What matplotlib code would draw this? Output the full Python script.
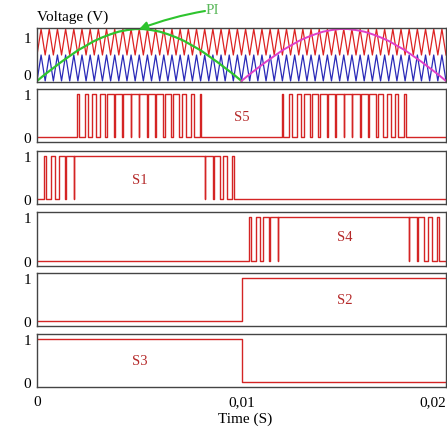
import numpy as np
import matplotlib
matplotlib.use("Agg")
import matplotlib.pyplot as plt

# ---------------- data ----------------
t_end = 0.02                 # s, full time span
carrier_period = 0.0004      # s, period of the two level-shifted triangle carriers
# rectified reference |sin|, sampled once per carrier period (51 samples, 0 .. 0.02 s)
ref_values = [0.00, 0.13, 0.25, 0.37, 0.48, 0.59, 0.68, 0.77, 0.84, 0.90,
              0.95, 0.98, 1.00, 1.00, 0.98, 0.95, 0.90, 0.84, 0.77, 0.68,
              0.59, 0.48, 0.37, 0.25, 0.13, 0.00,
              0.13, 0.25, 0.37, 0.48, 0.59, 0.68, 0.77, 0.84, 0.90,
              0.95, 0.98, 1.00, 1.00, 0.98, 0.95, 0.90, 0.84, 0.77, 0.68,
              0.59, 0.48, 0.37, 0.25, 0.13, 0.00]
# per-carrier-cycle duty of each switching signal (pulse centred on carrier valley)
S5_duty = [0, 0, 0, 0, 0, 0.18, 0.37, 0.54, 0.69, 0.81,
           0.90, 0.96, 0.99, 0.99, 0.96, 0.90, 0.81, 0.69, 0.54, 0.37,
           0.18, 0, 0, 0, 0, 0,
           0, 0, 0, 0, 0.18, 0.37, 0.54, 0.69, 0.81,
           0.90, 0.96, 0.99, 0.99, 0.96, 0.90, 0.81, 0.69, 0.54, 0.37,
           0.18, 0, 0, 0, 0, 0]
S1_duty = [0, 0.25, 0.50, 0.74, 0.96] + [1] * 16 + [0.96, 0.74, 0.50, 0.25] + [0] * 26
S4_duty = [0] * 26 + [0.25, 0.50, 0.74, 0.96] + [1] * 16 + [0.96, 0.74, 0.50, 0.25, 0]
# S2 / S3: single transitions
S2_times = [0.0, 0.01, 0.02]
S2_levels = [0, 1, 1]
S3_times = [0.0, 0.01, 0.02]
S3_levels = [1, 0, 0]
signal_names = ["S5", "S1", "S4", "S2", "S3"]
xtick_vals = [0, 0.01, 0.02]
xtick_labels = ["0", "0,01", "0,02"]

# ---------------- style ----------------
plt.rcParams['font.family'] = ['Liberation Serif', 'DejaVu Serif']
W, H = 447, 431
fig = plt.figure(figsize=(W / 100, H / 100), dpi=100)

def fx(px):
    return px / W

def fy(py):
    return 1 - py / H

def add_panel(top, bottom):
    return fig.add_axes([fx(37), fy(bottom), fx(446) - fx(37), (bottom - top) / H])

RED = "#dd2222"
BLUE = "#2a2ab8"
GREEN = "#2ec42e"
MAGENTA = "#e040c8"
SIG = "#d42424"
LBL = "#b52a2a"
SPINE = "#444444"

panels_px = [(29, 83), (90, 143), (152, 205), (213, 267), (274, 327), (335, 388)]
axes = [add_panel(t, b) for t, b in panels_px]

for ax in axes:
    ax.set_xlim(0, t_end)
    for s in ax.spines.values():
        s.set_color(SPINE)
        s.set_linewidth(1.0)
    ax.tick_params(length=0, labelsize=11, pad=4)
    ax.set_xticks([])

# ---------------- panel 1: carriers + reference ----------------
ax = axes[0]
ncar = int(round(t_end / carrier_period))
vt = np.arange(2 * ncar + 1) * carrier_period / 2
lower = np.where(np.arange(vt.size) % 2 == 0, 0.0, 0.5)
upper = lower + 0.5
ax.plot(vt, upper, color=RED, lw=0.9)
ax.plot(vt, lower, color=BLUE, lw=0.9)
ts = np.arange(len(ref_values)) * carrier_period
half = len(ref_values) // 2
ax.plot(ts[:half + 1], ref_values[:half + 1], color=GREEN, lw=1.6)
ax.plot(ts[half:], ref_values[half:], color=MAGENTA, lw=1.4)
ax.set_ylim(-0.02, 1.02)
ax.set_yticks([0.14, 0.85])
ax.set_yticklabels(["0", "1"])

ax.annotate("", xy=(ts[13] - 0.0002, 1.0), xycoords='data',
            xytext=(fx(205), fy(12)), textcoords='figure fraction',
            arrowprops=dict(arrowstyle='-|>', color=GREEN, lw=1.5,
                            mutation_scale=12, shrinkA=0, shrinkB=0,
                            connectionstyle="arc3,rad=0.05"))
fig.text(fx(206), fy(11), "PI", color="#5bb85b", fontsize=11, ha='left', va='center')

# ---------------- switching panels ----------------
def pwm_wave(duty, period, tmax):
    intervals = []
    for k, d in enumerate(duty):
        if d <= 0:
            continue
        c = k * period
        h = d * period / 2
        a, b = max(0.0, c - h), min(tmax, c + h)
        if intervals and a <= intervals[-1][1] + 1e-12:
            intervals[-1][1] = max(intervals[-1][1], b)
        else:
            intervals.append([a, b])
    xs, ys = [0.0], [0]
    for a, b in intervals:
        xs += [a, a, b, b]
        ys += [0, 1, 1, 0]
    xs.append(tmax)
    ys.append(0)
    return xs, ys

waves = [pwm_wave(S5_duty, carrier_period, t_end),
         pwm_wave(S1_duty, carrier_period, t_end),
         pwm_wave(S4_duty, carrier_period, t_end)]
for ax, (xs, ys) in zip(axes[1:4], waves):
    ax.plot(xs, ys, color=SIG, lw=1.0)
axes[4].step(S2_times, S2_levels, where='post', color=SIG, lw=1.0)
axes[5].step(S3_times, S3_levels, where='post', color=SIG, lw=1.0)

for ax in axes[1:]:
    ax.set_ylim(-0.12, 1.12)
    ax.set_yticks([0, 1])
    ax.set_yticklabels(["0", "1"])

label_pos = [(242, 118), (140, 180), (345, 238), (345, 300), (140, 362)]
for name, (px, py) in zip(signal_names, label_pos):
    fig.text(fx(px), fy(py), name, color=LBL, fontsize=10.5, ha='center', va='center')

# x axis on the bottom panel
axb = axes[5]
axb.set_xticks(xtick_vals)
axb.set_xticklabels(xtick_labels)
axb.tick_params(axis='x', pad=6)
axb.get_xticklabels()[-1].set_ha('right')
fig.text(fx(245), fy(419), "Time (S)", fontsize=11, ha='center', va='center')
fig.text(fx(37), fy(17), "Voltage (V)", fontsize=11, ha='left', va='center')

fig.savefig("out.png", dpi=100)
